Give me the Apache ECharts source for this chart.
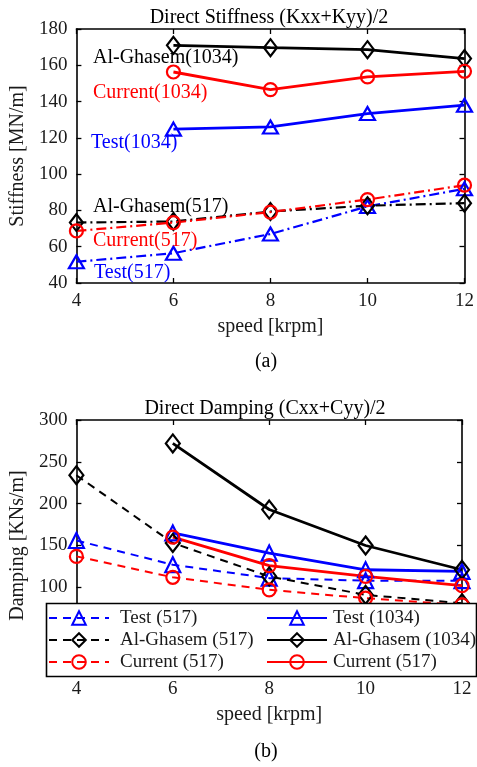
<!DOCTYPE html>
<html>
<head>
<meta charset="utf-8">
<script src="https://cdn.jsdelivr.net/npm/echarts@6/dist/echarts.min.js"></script>
<style>
html,body{margin:0;padding:0;background:#fff;}
#chart{width:477px;height:767px;}
</style>
</head>
<body>
<div id="chart"></div>
<script>
// ---------- data ----------
var speeds = [4, 6, 8, 10, 12];

// (a) Direct stiffness [MN/m]
var stiffTest517      = [51.7, 56.4, 67.0, 82.2, 91.9];
var stiffGhasem517    = [73.3, 73.9, 79.4, 82.6, 84.0];
var stiffCurrent517   = [68.7, 73.3, 79.1, 86.0, 93.9];
var stiffTest1034     = [null, 124.8, 126.0, 133.4, 138.0];
var stiffGhasem1034   = [null, 171.0, 169.7, 168.6, 163.7];
var stiffCurrent1034  = [null, 156.3, 146.6, 153.6, 156.7];

// (b) Direct damping [KNs/m]
var dampTest517       = [156, 127, 111, 108, 108];
var dampGhasem517     = [234, 153, 113, 91, 81];
var dampCurrent517    = [137, 112, 97, 87, 79];
var dampTest1034      = [null, 165, 141, 121, 119];
var dampGhasem1034    = [null, 272, 193, 150, 121];
var dampCurrent1034   = [null, 160, 126, 113, 102];

var stiffTicks = {min: 40, max: 180, interval: 20};
var dampTicks  = {min: 0, max: 300, interval: 50};
var speedTicks = {min: 4, max: 12, interval: 2};

var titleA = 'Direct Stiffness (Kxx+Kyy)/2';
var titleB = 'Direct Damping (Cxx+Cyy)/2';
var xName = 'speed [krpm]';
var yNameA = 'Stiffness [MN/m]';
var yNameB = 'Damping [KNs/m]';

var annotationTexts = ['Al-Ghasem(1034)', 'Current(1034)', 'Test(1034)', 'Al-Ghasem(517)', 'Current(517)', 'Test(517)'];
var legendNamesLeft  = ['Test (517)', 'Al-Ghasem (517)', 'Current (517)'];
var legendNamesRight = ['Test (1034)', 'Al-Ghasem (1034)', 'Current (1034)'];
var legendLabels = {'Current (1034)': 'Current (517)'};

// ---------- styling ----------
var FONT = '"Liberation Serif","Times New Roman",serif';
var BLUE = '#0000ff', RED = '#ff0000', BLACK = '#000000';
var TXT = '#1a1a1a';
var DASHDOT = [10, 4, 2, 4];
var DASHED = [8, 6];

function pairs(vals) {
  var out = [];
  for (var i = 0; i < speeds.length; i++) {
    if (vals[i] !== null) out.push([speeds[i], vals[i]]);
  }
  return out;
}

function makeSeries(name, vals, color, lineType, lineWidth, symbol, size, axisIdx) {
  return {
    name: name,
    type: 'line',
    xAxisIndex: axisIdx,
    yAxisIndex: axisIdx,
    data: pairs(vals),
    symbol: symbol,
    symbolSize: size,
    showSymbol: true,
    animation: false,
    lineStyle: {color: color, width: lineWidth, type: lineType},
    itemStyle: {color: 'rgba(0,0,0,0)', borderColor: color, borderWidth: 2.2},
    emphasis: {disabled: true},
    z: 2
  };
}

function axisCommon(extra) {
  var base = {
    axisLine: {show: true, onZero: false, lineStyle: {color: BLACK, width: 1.6}},
    axisTick: {show: true, inside: true, length: 5, lineStyle: {color: BLACK, width: 1.3}},
    splitLine: {show: false},
    axisLabel: {show: false}
  };
  for (var k in extra) base[k] = extra[k];
  return base;
}

var labelStyle = {show: true, fontSize: 19, fontFamily: FONT, color: TXT, margin: 9};

var xAxes = [
  axisCommon({gridIndex: 0, type: 'value', position: 'bottom', min: speedTicks.min, max: speedTicks.max, interval: speedTicks.interval,
    axisLabel: labelStyle, name: xName, nameLocation: 'middle', nameGap: 34,
    nameTextStyle: {fontSize: 20, fontFamily: FONT, color: TXT}}),
  axisCommon({gridIndex: 0, type: 'value', position: 'top', min: speedTicks.min, max: speedTicks.max, interval: speedTicks.interval}),
  axisCommon({gridIndex: 1, type: 'value', position: 'bottom', min: speedTicks.min, max: speedTicks.max, interval: speedTicks.interval,
    axisLabel: labelStyle, name: xName, nameLocation: 'middle', nameGap: 34,
    nameTextStyle: {fontSize: 20, fontFamily: FONT, color: TXT}}),
  axisCommon({gridIndex: 1, type: 'value', position: 'top', min: speedTicks.min, max: speedTicks.max, interval: speedTicks.interval})
];
var yAxes = [
  axisCommon({gridIndex: 0, type: 'value', position: 'left', min: stiffTicks.min, max: stiffTicks.max, interval: stiffTicks.interval,
    axisLabel: labelStyle, name: yNameA, nameLocation: 'middle', nameGap: 42,
    nameTextStyle: {fontSize: 20, fontFamily: FONT, color: TXT}}),
  axisCommon({gridIndex: 0, type: 'value', position: 'right', min: stiffTicks.min, max: stiffTicks.max, interval: stiffTicks.interval}),
  axisCommon({gridIndex: 1, type: 'value', position: 'left', min: dampTicks.min, max: dampTicks.max, interval: dampTicks.interval,
    axisLabel: labelStyle, name: yNameB, nameLocation: 'middle', nameGap: 43,
    nameTextStyle: {fontSize: 20, fontFamily: FONT, color: TXT}}),
  axisCommon({gridIndex: 1, type: 'value', position: 'right', min: dampTicks.min, max: dampTicks.max, interval: dampTicks.interval})
];

var TRI_A = [15, 13], DIA_A = [13, 17], CIR_A = 13;
var TRI_B = [15, 15], DIA_B = [14, 18], CIR_B = 13;

var series = [
  makeSeries('Test(517)', stiffTest517, BLUE, DASHDOT, 2.2, 'triangle', TRI_A, 0),
  makeSeries('Al-Ghasem(517)', stiffGhasem517, BLACK, DASHDOT, 2.2, 'diamond', DIA_A, 0),
  makeSeries('Current(517)', stiffCurrent517, RED, DASHDOT, 2.2, 'circle', CIR_A, 0),
  makeSeries('Test(1034)', stiffTest1034, BLUE, 'solid', 2.8, 'triangle', TRI_A, 0),
  makeSeries('Al-Ghasem(1034)', stiffGhasem1034, BLACK, 'solid', 2.8, 'diamond', DIA_A, 0),
  makeSeries('Current(1034)', stiffCurrent1034, RED, 'solid', 2.8, 'circle', CIR_A, 0),

  makeSeries(legendNamesLeft[0], dampTest517, BLUE, DASHED, 2, 'triangle', TRI_B, 2),
  makeSeries(legendNamesLeft[1], dampGhasem517, BLACK, DASHED, 2, 'diamond', DIA_B, 2),
  makeSeries(legendNamesLeft[2], dampCurrent517, RED, DASHED, 2, 'circle', CIR_B, 2),
  makeSeries(legendNamesRight[0], dampTest1034, BLUE, 'solid', 2.8, 'triangle', TRI_B, 2),
  makeSeries(legendNamesRight[1], dampGhasem1034, BLACK, 'solid', 2.8, 'diamond', DIA_B, 2),
  makeSeries(legendNamesRight[2], dampCurrent1034, RED, 'solid', 2.8, 'circle', CIR_B, 2)
];

function legend(names, left, textPad) {
  return {
    orient: 'vertical',
    top: 607,
    left: left,
    padding: 0,
    itemGap: 0,
    itemWidth: 60,
    itemHeight: 17,
    z: 20,
    selectedMode: false,
    data: names,
    formatter: function (n) { return legendLabels[n] || n; },
    textStyle: {fontSize: 19, fontFamily: FONT, color: TXT, lineHeight: 22, padding: [0, 0, 0, textPad]}
  };
}

var annotationColors = [BLACK, RED, BLUE, BLACK, RED, BLUE];
var annotationPos = [[93, 58], [93, 93], [91, 143], [93, 207], [93, 241], [94, 273]];

var graphics = [
  {type: 'text', x: 269, y: 18, style: {text: titleA, font: '20px ' + FONT, fill: BLACK, textAlign: 'center', textVerticalAlign: 'middle'}},
  {type: 'text', x: 265, y: 409, style: {text: titleB, font: '20px ' + FONT, fill: BLACK, textAlign: 'center', textVerticalAlign: 'middle'}},
  {type: 'text', x: 266, y: 362, style: {text: '(a)', font: '20px ' + FONT, fill: BLACK, textAlign: 'center', textVerticalAlign: 'middle'}},
  {type: 'text', x: 266, y: 752, style: {text: '(b)', font: '20px ' + FONT, fill: BLACK, textAlign: 'center', textVerticalAlign: 'middle'}},
  {type: 'rect', shape: {x: 46.5, y: 603.5, width: 430, height: 73}, style: {fill: '#ffffff', stroke: BLACK, lineWidth: 1.6}, z: 10}
];
for (var j = 0; j < annotationTexts.length; j++) {
  graphics.push({type: 'text', x: annotationPos[j][0], y: annotationPos[j][1], z: 5,
    style: {text: annotationTexts[j], font: '20px ' + FONT, fill: annotationColors[j], textAlign: 'left', textVerticalAlign: 'middle'}});
}

var chart = echarts.init(document.getElementById('chart'), null, {renderer: 'canvas'});
chart.setOption({
  backgroundColor: '#ffffff',
  animation: false,
  grid: [
    {left: 72, top: 29, width: 394, height: 254},
    {left: 68, top: 420, width: 394, height: 251}
  ],
  xAxis: xAxes,
  yAxis: yAxes,
  legend: [legend(legendNamesLeft, 48, 6), legend(legendNamesRight, 266, 1)],
  graphic: {elements: graphics},
  series: series
});
</script>
</body>
</html>
